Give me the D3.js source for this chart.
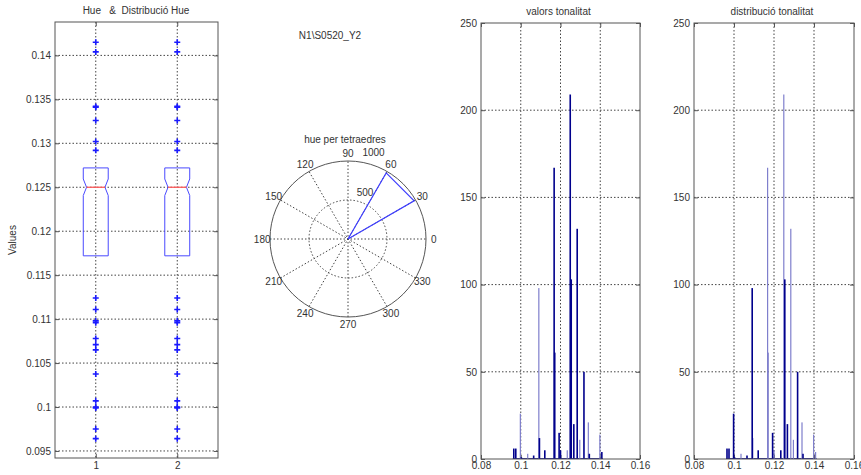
<!DOCTYPE html>
<html>
<head>
<meta charset="utf-8">
<script src="https://cdn.jsdelivr.net/npm/d3@7"></script>
<style>
body { margin: 0; background: #fff; }
text { font-family: "Liberation Sans", Arial, sans-serif; font-size: 10px; fill: #333; }
.frame { fill: none; stroke: #555; stroke-width: 1; }
.grid { stroke: #444; stroke-width: 1; stroke-dasharray: 1.5,2; fill: none; }
.domain { display: none; }
.tick line { stroke: #555; }
</style>
</head>
<body>
<svg width="861" height="475"></svg>
<script>
// data *************************************************************
var groups = [1, 2];
var boxQuartiles = [0.1172, 0.125, 0.1272];   // q1, median, q3
var notchHalf = 0.00094;
var outliers = [0.1415, 0.1404, 0.1342, 0.1341, 0.1326, 0.1302, 0.1292,
    0.1124, 0.1111, 0.1098, 0.1096, 0.1078, 0.1071, 0.1065, 0.10375,
    0.1007, 0.1000, 0.0999, 0.0975, 0.0964];
var boxTicks = [0.095, 0.1, 0.105, 0.11, 0.115, 0.12, 0.125, 0.13, 0.135, 0.14];

var hueBins = [0.0965, 0.0975, 0.0998, 0.1003, 0.1035, 0.1065, 0.1091, 0.1094,
    0.1121, 0.1168, 0.1171, 0.1193, 0.1200, 0.1234, 0.1249, 0.1254, 0.1267,
    0.1284, 0.1297, 0.1318, 0.1340, 0.1345, 0.1398, 0.1408];
var hueCounts = [6, 6, 26, 1, 3, 2, 98, 12, 5, 167, 61, 15, 5, 5, 209, 103, 20,
    132, 11, 50, 21, 3, 14, 4];
var histTicksX = [0.08, 0.1, 0.12, 0.14, 0.16];
var histTicksY = [0, 50, 100, 150, 200, 250];

var polarAngles = [0, 30, 60, 90, 120, 150, 180, 210, 240, 270, 300, 330];
var polarRings = [500, 1000];
var roseEdges = [30, 60];

// bins drawn in the lighter shade (rendering artefact of the original)
var lightValors = [0.0998, 0.1035, 0.1091, 0.1234, 0.1297, 0.1340, 0.1398];
var lightDistrib = [0.1035, 0.1094, 0.1168, 0.1171, 0.1200, 0.1249, 0.1284,
    0.1297, 0.1340, 0.1398, 0.1408];

var svg = d3.select('svg');
var fmt = d => String(d);

// box plot *********************************************************
(function () {
    var left = 55, right = 218, top = 22, bottom = 458;
    var x = d3.scaleLinear().domain([0.5, 2.5]).range([left, right]);
    var y = d3.scaleLinear().domain([0.0942, 0.1438]).range([bottom, top]);
    var g = svg.append('g');

    g.selectAll('.hg').data(boxTicks).enter().append('line')
        .attr('class', 'grid')
        .attr('x1', left).attr('x2', right)
        .attr('y1', d => y(d)).attr('y2', d => y(d));
    g.selectAll('.vg').data(groups).enter().append('line')
        .attr('class', 'grid')
        .attr('x1', d => x(d)).attr('x2', d => x(d))
        .attr('y1', top).attr('y2', bottom);

    g.append('g').attr('transform', `translate(${left},0)`)
        .call(d3.axisLeft(y).tickValues(boxTicks).tickFormat(fmt).tickSizeInner(-4).tickSizeOuter(0).tickPadding(4));
    g.append('g').attr('transform', `translate(${right},0)`)
        .call(d3.axisRight(y).tickValues(boxTicks).tickFormat('').tickSizeInner(-4).tickSizeOuter(0));
    g.append('g').attr('transform', `translate(0,${bottom})`)
        .call(d3.axisBottom(x).tickValues(groups).tickFormat(fmt).tickSizeInner(-4).tickSizeOuter(0).tickPadding(4));
    g.append('g').attr('transform', `translate(0,${top})`)
        .call(d3.axisTop(x).tickValues(groups).tickFormat('').tickSizeInner(-4).tickSizeOuter(0));

    g.append('rect').attr('class', 'frame')
        .attr('x', left).attr('y', top).attr('width', right - left).attr('height', bottom - top);

    var halfW = 0.153, notchW = 0.04;
    groups.forEach(function (gr) {
        var q1 = boxQuartiles[0], med = boxQuartiles[1], q3 = boxQuartiles[2];
        var pts = [
            [gr - halfW, q3], [gr + halfW, q3], [gr + halfW, med + notchHalf],
            [gr + halfW - notchW, med], [gr + halfW, med - notchHalf], [gr + halfW, q1],
            [gr - halfW, q1], [gr - halfW, med - notchHalf], [gr - halfW + notchW, med],
            [gr - halfW, med + notchHalf], [gr - halfW, q3]
        ];
        g.append('path')
            .attr('d', d3.line().x(d => x(d[0])).y(d => y(d[1]))(pts))
            .attr('fill', 'none').attr('stroke', '#4a4aff').attr('stroke-width', 1);
        g.append('line')
            .attr('x1', x(gr - halfW + notchW)).attr('x2', x(gr + halfW - notchW))
            .attr('y1', y(med)).attr('y2', y(med))
            .attr('stroke', '#ff5a5a').attr('stroke-width', 1.3);
        g.selectAll(null).data(outliers).enter().append('path')
            .attr('transform', d => `translate(${x(gr)},${y(d)})`)
            .attr('d', 'M-3,0H3M0,-3V3')
            .attr('stroke', '#1a1aff').attr('stroke-width', 1.6);
    });

    g.append('text').attr('x', 136).attr('y', 14).attr('text-anchor', 'middle')
        .attr('xml:space', 'preserve').text('Hue   &  Distribució Hue');
    g.append('text').attr('transform', `translate(16,${(top + bottom) / 2}) rotate(-90)`)
        .attr('text-anchor', 'middle').text('Values');
})();

// centre title *****************************************************
svg.append('text').attr('x', 330).attr('y', 39).attr('text-anchor', 'middle').text('N1\\S0520_Y2');

// polar (rose) *****************************************************
(function () {
    var cx = 348, cy = 239;
    var r = d3.scaleLinear().domain([0, 1000]).range([0, 78]);
    var rMax = r(d3.max(polarRings));
    var g = svg.append('g').attr('transform', `translate(${cx},${cy})`);
    var rad = a => a * Math.PI / 180;

    g.append('circle').attr('r', rMax).attr('fill', '#fff').attr('stroke', '#555');
    g.selectAll('.ring').data(polarRings.slice(0, -1)).enter().append('circle')
        .attr('class', 'grid').attr('r', d => r(d));
    g.selectAll('.spoke').data(polarAngles.filter(a => a < 180)).enter().append('line')
        .attr('class', 'grid')
        .attr('x1', a => -rMax * Math.cos(rad(a))).attr('y1', a => rMax * Math.sin(rad(a)))
        .attr('x2', a => rMax * Math.cos(rad(a))).attr('y2', a => -rMax * Math.sin(rad(a)));

    g.selectAll('.alab').data(polarAngles).enter().append('text')
        .attr('x', a => 1.1 * rMax * Math.cos(rad(a)))
        .attr('y', a => -1.1 * rMax * Math.sin(rad(a)))
        .attr('text-anchor', 'middle').attr('dy', '0.35em')
        .text(fmt);
    g.selectAll('.rlab').data(polarRings).enter().append('text')
        .attr('x', d => r(d * 1.05) * Math.cos(rad(82)) + 3)
        .attr('y', d => -r(d * 1.05) * Math.sin(rad(82)) - 2)
        .text(fmt);

    var total = d3.sum(hueCounts);
    var rose = [[0, 0], [roseEdges[0], total], [roseEdges[1], total], [0, 0]];
    g.append('path')
        .attr('d', d3.line().x(d => r(d[1]) * Math.cos(rad(d[0]))).y(d => -r(d[1]) * Math.sin(rad(d[0])))(rose))
        .attr('fill', 'none').attr('stroke', '#3d3dff').attr('stroke-width', 1.2);

    g.append('text').attr('x', -3).attr('y', -96).attr('text-anchor', 'middle').text('hue per tetraedres');
})();

// histograms *******************************************************
function histogram(left, right, title, lightBins) {
    var top = 23, bottom = 459;
    var x = d3.scaleLinear().domain([0.08, 0.16]).range([left, right]);
    var y = d3.scaleLinear().domain([0, 250]).range([bottom, top]);
    var g = svg.append('g');

    g.selectAll('.hg').data(histTicksY.slice(1, -1)).enter().append('line')
        .attr('class', 'grid')
        .attr('x1', left).attr('x2', right)
        .attr('y1', d => y(d)).attr('y2', d => y(d));
    g.selectAll('.vg').data(histTicksX.slice(1, -1)).enter().append('line')
        .attr('class', 'grid')
        .attr('x1', d => x(d)).attr('x2', d => x(d))
        .attr('y1', top).attr('y2', bottom);

    g.append('g').attr('transform', `translate(${left},0)`)
        .call(d3.axisLeft(y).tickValues(histTicksY).tickFormat(fmt).tickSizeInner(-4).tickSizeOuter(0).tickPadding(4));
    g.append('g').attr('transform', `translate(${right},0)`)
        .call(d3.axisRight(y).tickValues(histTicksY).tickFormat('').tickSizeInner(-4).tickSizeOuter(0));
    g.append('g').attr('transform', `translate(0,${bottom})`)
        .call(d3.axisBottom(x).tickValues(histTicksX).tickFormat(fmt).tickSizeInner(-4).tickSizeOuter(0).tickPadding(3));
    g.append('g').attr('transform', `translate(0,${top})`)
        .call(d3.axisTop(x).tickValues(histTicksX).tickFormat('').tickSizeInner(-4).tickSizeOuter(0));

    var bars = hueBins.map((v, i) => ({ v, c: hueCounts[i], light: lightBins.indexOf(v) >= 0 }));
    g.append('line')
        .attr('x1', x(d3.min(hueBins)) - 1).attr('x2', x(d3.max(hueBins)) + 1)
        .attr('y1', bottom - 0.5).attr('y2', bottom - 0.5)
        .attr('stroke', '#2a2a9a').attr('stroke-width', 1.2);
    g.selectAll('.bar').data(bars.filter(d => d.light)).enter().append('rect')
        .attr('x', d => x(d.v) - 0.6).attr('width', 1.2)
        .attr('y', d => y(d.c)).attr('height', d => bottom - y(d.c))
        .attr('fill', '#7f7fcc');
    g.selectAll('.barDark').data(bars.filter(d => !d.light)).enter().append('rect')
        .attr('x', d => x(d.v) - 0.8).attr('width', 1.6)
        .attr('y', d => y(d.c)).attr('height', d => bottom - y(d.c))
        .attr('fill', '#00008c');

    g.append('rect').attr('class', 'frame')
        .attr('x', left).attr('y', top).attr('width', right - left).attr('height', bottom - top);

    g.append('text').attr('x', (left + right) / 2 - 2).attr('y', 15).attr('text-anchor', 'middle').text(title);
}

histogram(481, 640, 'valors tonalitat', lightValors);
histogram(694, 854, 'distribució tonalitat', lightDistrib);
</script>
</body>
</html>
